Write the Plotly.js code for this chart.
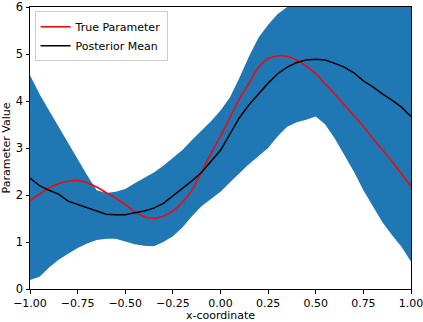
<!DOCTYPE html>
<html>
<head>
<script src="https://cdn.plot.ly/plotly-3.0.1.min.js"></script>
<style>body{margin:0;} #myDiv{width:423px;height:322px;}</style>
</head>
<body>
<div id="myDiv"></div>
<script>
var xs = [-1.00, -0.95, -0.90, -0.85, -0.80, -0.75, -0.70, -0.65, -0.60, -0.55,
          -0.50, -0.45, -0.40, -0.35, -0.30, -0.25, -0.20, -0.15, -0.10, -0.05,
           0.00,  0.05,  0.10,  0.15,  0.20,  0.25,  0.30,  0.35,  0.40,  0.45,
           0.50,  0.55,  0.60,  0.65,  0.70,  0.75,  0.80,  0.85,  0.90,  0.95, 1.00];

var upperBand = [4.55, 4.15, 3.80, 3.45, 3.10, 2.75, 2.42, 2.10, 2.04, 2.07,
                 2.13, 2.25, 2.37, 2.48, 2.62, 2.78, 2.96, 3.17, 3.37, 3.57,
                 3.80, 4.08, 4.50, 4.95, 5.35, 5.62, 5.85, 6.00, 6.15, 6.25,
                 6.35, 6.40, 6.45, 6.50, 6.50, 6.50, 6.50, 6.50, 6.50, 6.50, 6.50];

var lowerBand = [0.19, 0.26, 0.46, 0.62, 0.75, 0.87, 0.97, 1.04, 1.07, 1.07,
                 1.01, 0.95, 0.92, 0.91, 1.00, 1.12, 1.31, 1.55, 1.76, 1.92,
                 2.07, 2.27, 2.47, 2.66, 2.83, 3.00, 3.25, 3.45, 3.55, 3.60,
                 3.67, 3.50, 3.20, 2.85, 2.50, 2.10, 1.75, 1.42, 1.15, 0.90, 0.58];

var trueParam = [1.88, 2.02, 2.15, 2.24, 2.29, 2.31, 2.26, 2.17, 2.05, 1.93,
                 1.80, 1.64, 1.54, 1.50, 1.55, 1.66, 1.85, 2.10, 2.48, 2.88,
                 3.25, 3.65, 4.05, 4.38, 4.72, 4.90, 4.96, 4.95, 4.87, 4.74,
                 4.58, 4.36, 4.15, 3.92, 3.69, 3.46, 3.20, 2.96, 2.72, 2.45, 2.18];

var postMean = [2.36, 2.20, 2.10, 2.02, 1.87, 1.80, 1.72, 1.65, 1.59, 1.58,
                1.58, 1.62, 1.66, 1.72, 1.82, 1.98, 2.13, 2.30, 2.48, 2.72,
                2.95, 3.30, 3.65, 3.92, 4.15, 4.38, 4.58, 4.72, 4.82, 4.87,
                4.89, 4.87, 4.80, 4.72, 4.60, 4.43, 4.30, 4.15, 4.02, 3.87, 3.67];

var yTicks = [0, 1, 2, 3, 4, 5, 6];

var lower = {
  x: xs, y: lowerBand, type: 'scatter', mode: 'lines',
  line: {width: 0}, showlegend: false, hoverinfo: 'skip'
};
var upper = {
  x: xs, y: upperBand, type: 'scatter', mode: 'lines',
  line: {width: 0}, fill: 'tonexty', fillcolor: '#1f77b4',
  showlegend: false, hoverinfo: 'skip'
};
var trace1 = {
  x: xs, y: trueParam, name: 'True Parameter', type: 'scatter', mode: 'lines',
  line: {color: 'red', width: 1.5, shape: 'spline'}
};
var trace2 = {
  x: xs, y: postMean, name: 'Posterior Mean', type: 'scatter', mode: 'lines',
  line: {color: 'black', width: 1.5}
};

var data = [lower, upper, trace1, trace2];

var layout = {
  width: 423,
  height: 322,
  margin: {l: 30, r: 12, t: 7, b: 33},
  paper_bgcolor: 'white',
  plot_bgcolor: 'white',
  font: {family: 'DejaVu Sans', size: 11.5, color: 'black'},
  showlegend: true,
  legend: {
    x: 0.012, y: 0.985, xanchor: 'left', yanchor: 'top',
    traceorder: 'normal', itemwidth: 30,
    bgcolor: 'rgba(255,255,255,0.8)', bordercolor: '#cccccc', borderwidth: 1,
    font: {size: 11}
  },
  xaxis: {
    title: {text: 'x-coordinate', standoff: 5, font: {size: 11}},
    range: [-1, 1], dtick: 0.25, tickformat: '.2f',
    tickfont: {size: 11},
    ticklabeloverflow: 'allow',
    showgrid: false, zeroline: false,
    showline: true, linecolor: 'black', linewidth: 1, mirror: true,
    ticks: 'outside', ticklen: 3.5, tickcolor: 'black'
  },
  yaxis: {
    title: {text: 'Parameter Value', standoff: 4, font: {size: 11}},
    range: [0, 6], tickmode: 'array', tickvals: yTicks,
    ticklabeloverflow: 'allow',
    showgrid: false, zeroline: false,
    showline: true, linecolor: 'black', linewidth: 1, mirror: true,
    ticks: 'outside', ticklen: 3.5, tickcolor: 'black'
  }
};

Plotly.newPlot('myDiv', data, layout, {displayModeBar: false, staticPlot: true});
</script>
</body>
</html>
